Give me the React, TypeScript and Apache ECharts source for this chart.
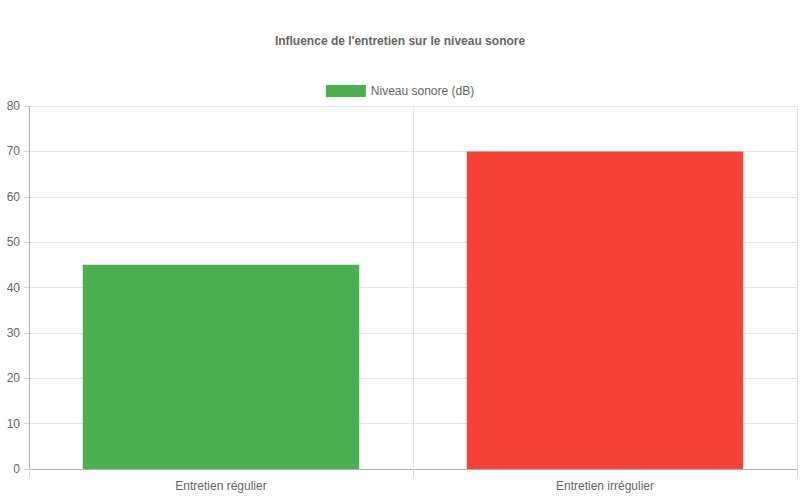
import { useEffect, useRef } from "react";
import * as echarts from "echarts";

const categories = ["Entretien régulier", "Entretien irrégulier"];
const values = [45, 70];
const barColors = ["#4CAF50", "#F44336"];
const seriesName = "Niveau sonore (dB)";
const title = "Influence de l'entretien sur le niveau sonore";

const font = "'Liberation Sans', Helvetica, Arial, sans-serif";

export default function App() {
  const chartRef = useRef<HTMLDivElement>(null);

  useEffect(() => {
    document.body.style.margin = "0";
    if (!chartRef.current) return;
    const chart = echarts.init(chartRef.current, null, { renderer: "svg" });

    chart.setOption({
      animation: false,
      textStyle: { fontFamily: font },
      title: {
        text: title,
        left: "center",
        top: 30,
        textStyle: { fontSize: 12, fontWeight: "bold", color: "#666", fontFamily: font },
      },
      legend: {
        top: 80,
        left: "center",
        itemWidth: 40,
        itemHeight: 12,
        itemGap: 10,
        icon: "rect",
        textStyle: { fontSize: 12, color: "#666", fontFamily: font },
        data: [seriesName],
      },
      grid: { left: 29, right: 3, top: 106, bottom: 31 },
      xAxis: {
        type: "category",
        data: categories,
        axisLine: { show: true, lineStyle: { color: "#b3b3b3" } },
        axisTick: { show: true, length: 9, lineStyle: { color: "#d9d9d9" } },
        axisLabel: { fontSize: 12, color: "#666", margin: 11 },
        splitLine: { show: true, lineStyle: { color: "#e6e6e6" } },
      },
      yAxis: {
        type: "value",
        min: 0,
        max: 80,
        interval: 10,
        axisLine: { show: true, lineStyle: { color: "#b3b3b3" } },
        axisTick: { show: true, length: 5, lineStyle: { color: "#d9d9d9" } },
        axisLabel: { fontSize: 12, color: "#666", margin: 9 },
        splitLine: { show: true, lineStyle: { color: "#e6e6e6" } },
      },
      series: [
        {
          name: seriesName,
          type: "bar",
          barWidth: "72%",
          itemStyle: { color: barColors[0] },
          data: values.map((v, i) => ({
            value: v,
            itemStyle: { color: barColors[i] },
          })),
        },
      ],
    });

    return () => {
      chart.dispose();
    };
  }, []);

  return <div ref={chartRef} style={{ width: 800, height: 500 }} />;
}
